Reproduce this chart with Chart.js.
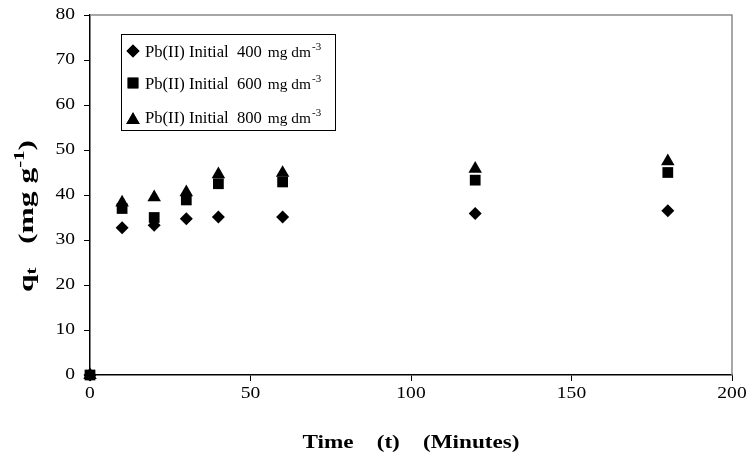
<!DOCTYPE html>
<html>
<head>
<meta charset="utf-8">
<script src="https://cdn.jsdelivr.net/npm/chart.js@4/dist/chart.umd.min.js"></script>
<style>
html,body{margin:0;padding:0;background:#fff;}
#c{display:block;}
</style>
</head>
<body>
<canvas id="c" width="748" height="463"></canvas>
<script>
// ---- data ----
const times = [0, 10, 20, 30, 40, 60, 120, 180];
const q400 = [0, 32.7, 33.3, 34.7, 35.1, 35.1, 35.9, 36.5];
const q600 = [0, 37.0, 35.0, 38.9, 42.5, 42.9, 43.3, 45.0];
const q800 = [0, 38.3, 39.5, 40.6, 44.6, 44.9, 45.8, 47.5];
const seriesLabels = ['Pb(II) Initial  400', 'Pb(II) Initial  600', 'Pb(II) Initial  800'];
const unitText = 'mg dm';
const unitSup = '-3';
const xTicks = [0, 50, 100, 150, 200];
const yTicks = [0, 10, 20, 30, 40, 50, 60, 70, 80];
const xTitle = 'Time    (t)    (Minutes)';

const SX = 1.22; // horizontal text stretch
const SERIF = '"Liberation Serif", "Times New Roman", serif';

function sText(ctx, str, x, y, align, sx) {
  const w = ctx.measureText(str).width * sx;
  let x0 = align === 'center' ? x - w / 2 : (align === 'right' ? x - w : x);
  ctx.save();
  ctx.translate(x0, y);
  ctx.scale(sx, 1);
  ctx.textAlign = 'left';
  ctx.fillText(str, 0, 0);
  ctx.restore();
  return w;
}

function pts(arr) { return times.map((t, i) => ({x: t, y: arr[i]})); }

const styles = ['rectRot', 'rect', 'triangle'];
const radii = [6.5, 7.6, 7.8];

const textPlugin = {
  id: 'textPlugin',
  beforeDraw(chart) {
    const ctx = chart.ctx;
    ctx.save();
    ctx.fillStyle = '#fff';
    ctx.fillRect(0, 0, chart.width, chart.height);
    ctx.restore();
  },
  afterDatasetsDraw(chart) {
    const ctx = chart.ctx;
    const ca = chart.chartArea;
    const xs = chart.scales.x, ys = chart.scales.y;
    ctx.save();
    // gray top/right frame
    ctx.strokeStyle = '#8a8a8a';
    ctx.lineWidth = 1.5;
    ctx.beginPath();
    ctx.moveTo(ca.left, ca.top);
    ctx.lineTo(ca.right, ca.top);
    ctx.lineTo(ca.right, ca.bottom);
    ctx.stroke();

    ctx.fillStyle = '#000';
    ctx.textBaseline = 'middle';
    ctx.font = '16px ' + SERIF;
    // y tick labels
    ys.ticks.forEach(t => {
      sText(ctx, String(t.value), ca.left - 15, ys.getPixelForValue(t.value), 'right', SX);
    });
    // x tick labels
    xs.ticks.forEach(t => {
      sText(ctx, String(t.value), xs.getPixelForValue(t.value), ca.bottom + 19, 'center', SX);
    });

    // x title
    ctx.font = 'bold 19px ' + SERIF;
    ctx.textBaseline = 'alphabetic';
    sText(ctx, xTitle, (ca.left + ca.right) / 2, 448, 'center', SX);

    // y title (rotated)
    ctx.save();
    ctx.translate(33, 216);
    ctx.rotate(-Math.PI / 2);
    const big = 'bold 21px ' + SERIF, small = 'bold 14px ' + SERIF;
    const YS = 1.5;
    const parts = [
      {t: 'q', f: big, dy: 0},
      {t: 't', f: small, dy: 3},
      {t: '   (mg g', f: big, dy: 0},
      {t: '-1', f: small, dy: -9},
      {t: ')', f: big, dy: 0}
    ];
    let total = 0;
    parts.forEach(p => { ctx.font = p.f; p.w = ctx.measureText(p.t).width * YS; total += p.w; });
    let x = -total / 2;
    parts.forEach(p => { ctx.font = p.f; sText(ctx, p.t, x, p.dy, 'left', YS); x += p.w; });
    ctx.restore();

    // legend
    const lx = 121, ly = 34, lw = 214, lh = 96;
    ctx.fillStyle = '#fff';
    ctx.fillRect(lx, ly, lw, lh);
    ctx.strokeStyle = '#000';
    ctx.lineWidth = 1;
    ctx.strokeRect(lx + 0.5, ly + 0.5, lw, lh);
    ctx.fillStyle = '#000';
    const rows = [51, 83, 117];
    chart.data.datasets.forEach((ds, i) => {
      const y = rows[i];
      Chart.helpers.drawPoint(ctx, {pointStyle: styles[i], radius: radii[i], rotation: 0, borderWidth: 0}, 133, i === 2 ? y + 3 : y);
      ctx.fill();
      ctx.textBaseline = 'alphabetic';
      ctx.font = '16px ' + SERIF;
      let w = sText(ctx, seriesLabels[i], 145, y + 6, 'left', 1.04);
      ctx.font = '14px ' + SERIF;
      let w2 = sText(ctx, ' ' + unitText, 145 + w + 2, y + 6, 'left', 1.1);
      ctx.font = '10px ' + SERIF;
      sText(ctx, unitSup, 145 + w + 2 + w2 + 1, y - 1, 'left', 1.1);
    });
    ctx.restore();
  }
};

new Chart(document.getElementById('c'), {
  type: 'scatter',
  data: {
    datasets: [q400, q600, q800].map((arr, i) => ({
      label: seriesLabels[i],
      data: pts(arr),
      pointStyle: styles[i],
      pointRadius: radii[i],
      pointHoverRadius: radii[i],
      backgroundColor: '#000',
      borderColor: '#000',
      borderWidth: 0,
      showLine: false,
      clip: false
    }))
  },
  options: {
    responsive: false,
    devicePixelRatio: 1,
    animation: false,
    events: [],
    layout: {padding: {left: 0, right: 16, top: 15, bottom: 0}},
    plugins: {legend: {display: false}, tooltip: {enabled: false}},
    scales: {
      x: {
        type: 'linear', min: 0, max: 200,
        afterBuildTicks: s => { s.ticks = xTicks.map(v => ({value: v})); },
        afterFit: s => { s.height = 88; },
        ticks: {display: false},
        grid: {display: true, drawOnChartArea: false, drawTicks: true, tickLength: 6, color: '#000', lineWidth: 1},
        border: {display: true, color: '#000', width: 1.5}
      },
      y: {
        type: 'linear', min: 0, max: 80,
        afterBuildTicks: s => { s.ticks = yTicks.map(v => ({value: v})); },
        afterFit: s => { s.width = 90; },
        ticks: {display: false},
        grid: {display: true, drawOnChartArea: false, drawTicks: true, tickLength: 6, color: '#000', lineWidth: 1},
        border: {display: true, color: '#000', width: 1.5}
      }
    }
  },
  plugins: [textPlugin]
});
</script>
</body>
</html>
